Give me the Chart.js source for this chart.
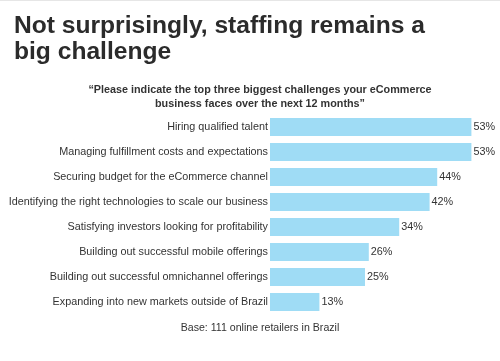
<!DOCTYPE html>
<html>
<head>
<meta charset="utf-8">
<script src="https://cdn.jsdelivr.net/npm/chart.js@4/dist/chart.umd.min.js"></script>
<style>
  html, body { margin:0; padding:0; background:#fff; }
  #wrap { position:relative; width:500px; height:361px; overflow:hidden; font-family:"Liberation Sans", Arial, sans-serif; border-top:1px solid #e6e6e6; box-sizing:border-box; }
  #title { position:absolute; left:14px; top:11px; font-size:24.6px; font-weight:bold; line-height:26px; color:#2b2b2b; }
  #sub { position:absolute; left:0; width:520px; top:81px; text-align:center; font-size:10.8px; font-weight:bold; line-height:14px; color:#333; }
  #foot { position:absolute; left:0; width:520px; top:320px; text-align:center; font-size:10.6px; color:#333; }
  #c { position:absolute; left:0; top:0; }
</style>
</head>
<body>
<div id="wrap">
  <canvas id="c" width="500" height="361"></canvas>
  <div id="title">Not surprisingly, staffing remains a<br>big challenge</div>
  <div id="sub">“Please indicate the top three biggest challenges your eCommerce<br>business faces over the next 12 months”</div>
  <div id="foot">Base: 111 online retailers in Brazil</div>
</div>
<script>
const categories = [
  "Hiring qualified talent",
  "Managing fulfillment costs and expectations",
  "Securing budget for the eCommerce channel",
  "Identifying the right technologies to scale our business",
  "Satisfying investors looking for profitability",
  "Building out successful mobile offerings",
  "Building out successful omnichannel offerings",
  "Expanding into new markets outside of Brazil"
];
const values = [53, 53, 44, 42, 34, 26, 25, 13];
const xMax = 60;

const valueLabels = {
  id: 'valueLabels',
  afterDatasetsDraw(chart) {
    const ctx = chart.ctx;
    const meta = chart.getDatasetMeta(0);
    ctx.save();
    ctx.font = '10.8px "Liberation Sans", Arial, sans-serif';
    ctx.fillStyle = '#333';
    ctx.textAlign = 'left';
    ctx.textBaseline = 'middle';
    meta.data.forEach((bar, i) => {
      ctx.fillText(values[i] + '%', bar.x + 2, bar.y);
    });
    ctx.restore();
  }
};

new Chart(document.getElementById('c'), {
  type: 'bar',
  data: {
    labels: categories,
    datasets: [{
      data: values,
      backgroundColor: '#9fdcf5',
      borderWidth: 0,
      categoryPercentage: 0.72,
      barPercentage: 1.0
    }]
  },
  options: {
    indexAxis: 'y',
    responsive: false,
    animation: false,
    layout: { padding: { left: 0, right: 2, top: 113.5, bottom: 47.5 } },
    plugins: { legend: { display: false }, tooltip: { enabled: false } },
    scales: {
      x: { display: false, min: 0, max: xMax },
      y: {
        afterFit(scale) { scale.width = 270; },
        grid: { display: false, drawTicks: false },
        border: { display: false },
        ticks: {
          padding: 2,
          color: '#333',
          font: { family: '"Liberation Sans", Arial, sans-serif', size: 10.8 }
        }
      }
    }
  },
  plugins: [valueLabels]
});
</script>
</body>
</html>
